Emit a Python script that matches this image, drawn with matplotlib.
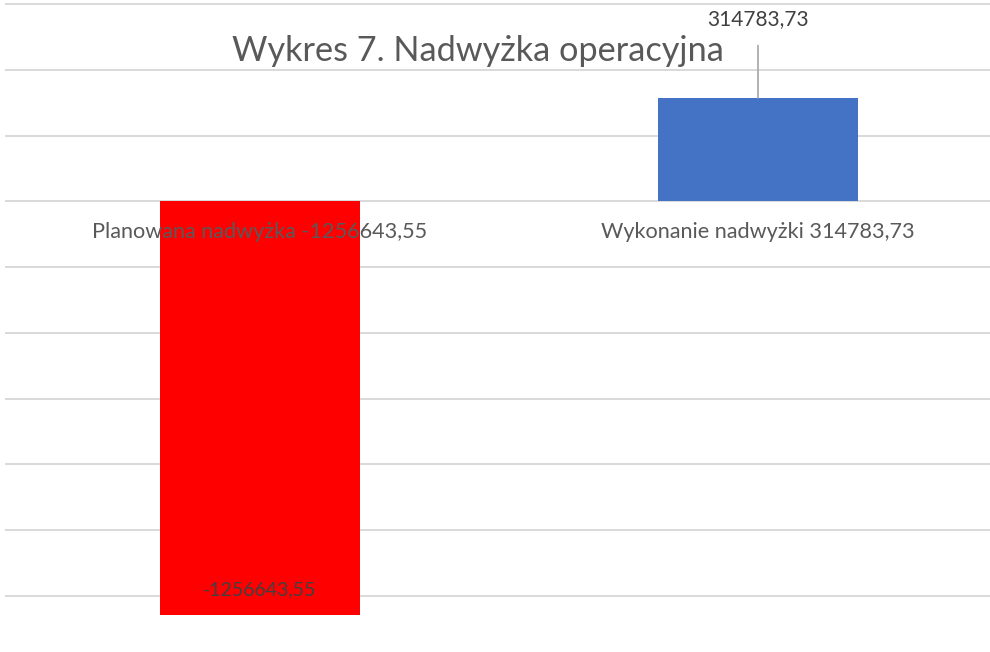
import matplotlib
matplotlib.use("Agg")
import matplotlib.pyplot as plt

categories = ["Planowana nadwyżka -1256643,55", "Wykonanie nadwyżki 314783,73"]
values = [-1256643.55, 314783.73]
value_labels = ["-1256643,55", "314783,73"]
colors = ["#FF0000", "#4472C4"]
title = "Wykres 7. Nadwyżka operacyjna"
grid_values = [-1200000, -1000000, -800000, -600000, -400000, -200000, 0, 200000, 400000, 600000]

plt.rcParams['font.family'] = ['Lato', 'DejaVu Sans']

W, H = 990, 652
fig = plt.figure(figsize=(W / 100, H / 100), dpi=100)
ax = fig.add_axes([0, 0, 1, 1])

# scale: zero at pixel 201.5, 3042 units per px; categories at x=260 and 758 px
upp = 3042.0
zero_px = 201.5
ax.set_ylim(-(H - zero_px) * upp, zero_px * upp)
px_per_unit = 498.0
x0 = 260.0
ax.set_xlim(-x0 / px_per_unit, (W - x0) / px_per_unit)
ax.axis('off')

for g in grid_values:
    ax.axhline(g, xmin=6 / W, xmax=1, color="#D9D9D9", lw=1.4, zorder=0)

xs = list(range(len(values)))
ax.bar(xs, values, width=200 / px_per_unit, color=colors, zorder=2)

text_col = "#595959"
# category labels just below the zero line
for x, c in zip(xs, categories):
    ax.annotate(c, xy=(x, 0), xytext=(0, -22), textcoords='offset points',
                ha='center', va='center', fontsize=15.6, color=text_col, zorder=3)

# data labels
ax.annotate(value_labels[0], xy=(0, values[0]), xytext=(0, 18), textcoords='offset points',
            ha='center', va='center', fontsize=14, color="#404040", zorder=3,
            family=['Liberation Sans Narrow', 'Lato'])
ax.annotate(value_labels[1], xy=(1, values[1]), xytext=(0, 57), textcoords='offset points',
            ha='center', va='center', fontsize=15, color="#404040", zorder=3,
            arrowprops=dict(arrowstyle='-', color="#A6A6A6", lw=1.2, shrinkA=10, shrinkB=0))

fig.text(478 / W, 1 - 51 / H, title, ha='center', va='center', fontsize=24.7, color=text_col)

fig.savefig("out.png", dpi=100)
